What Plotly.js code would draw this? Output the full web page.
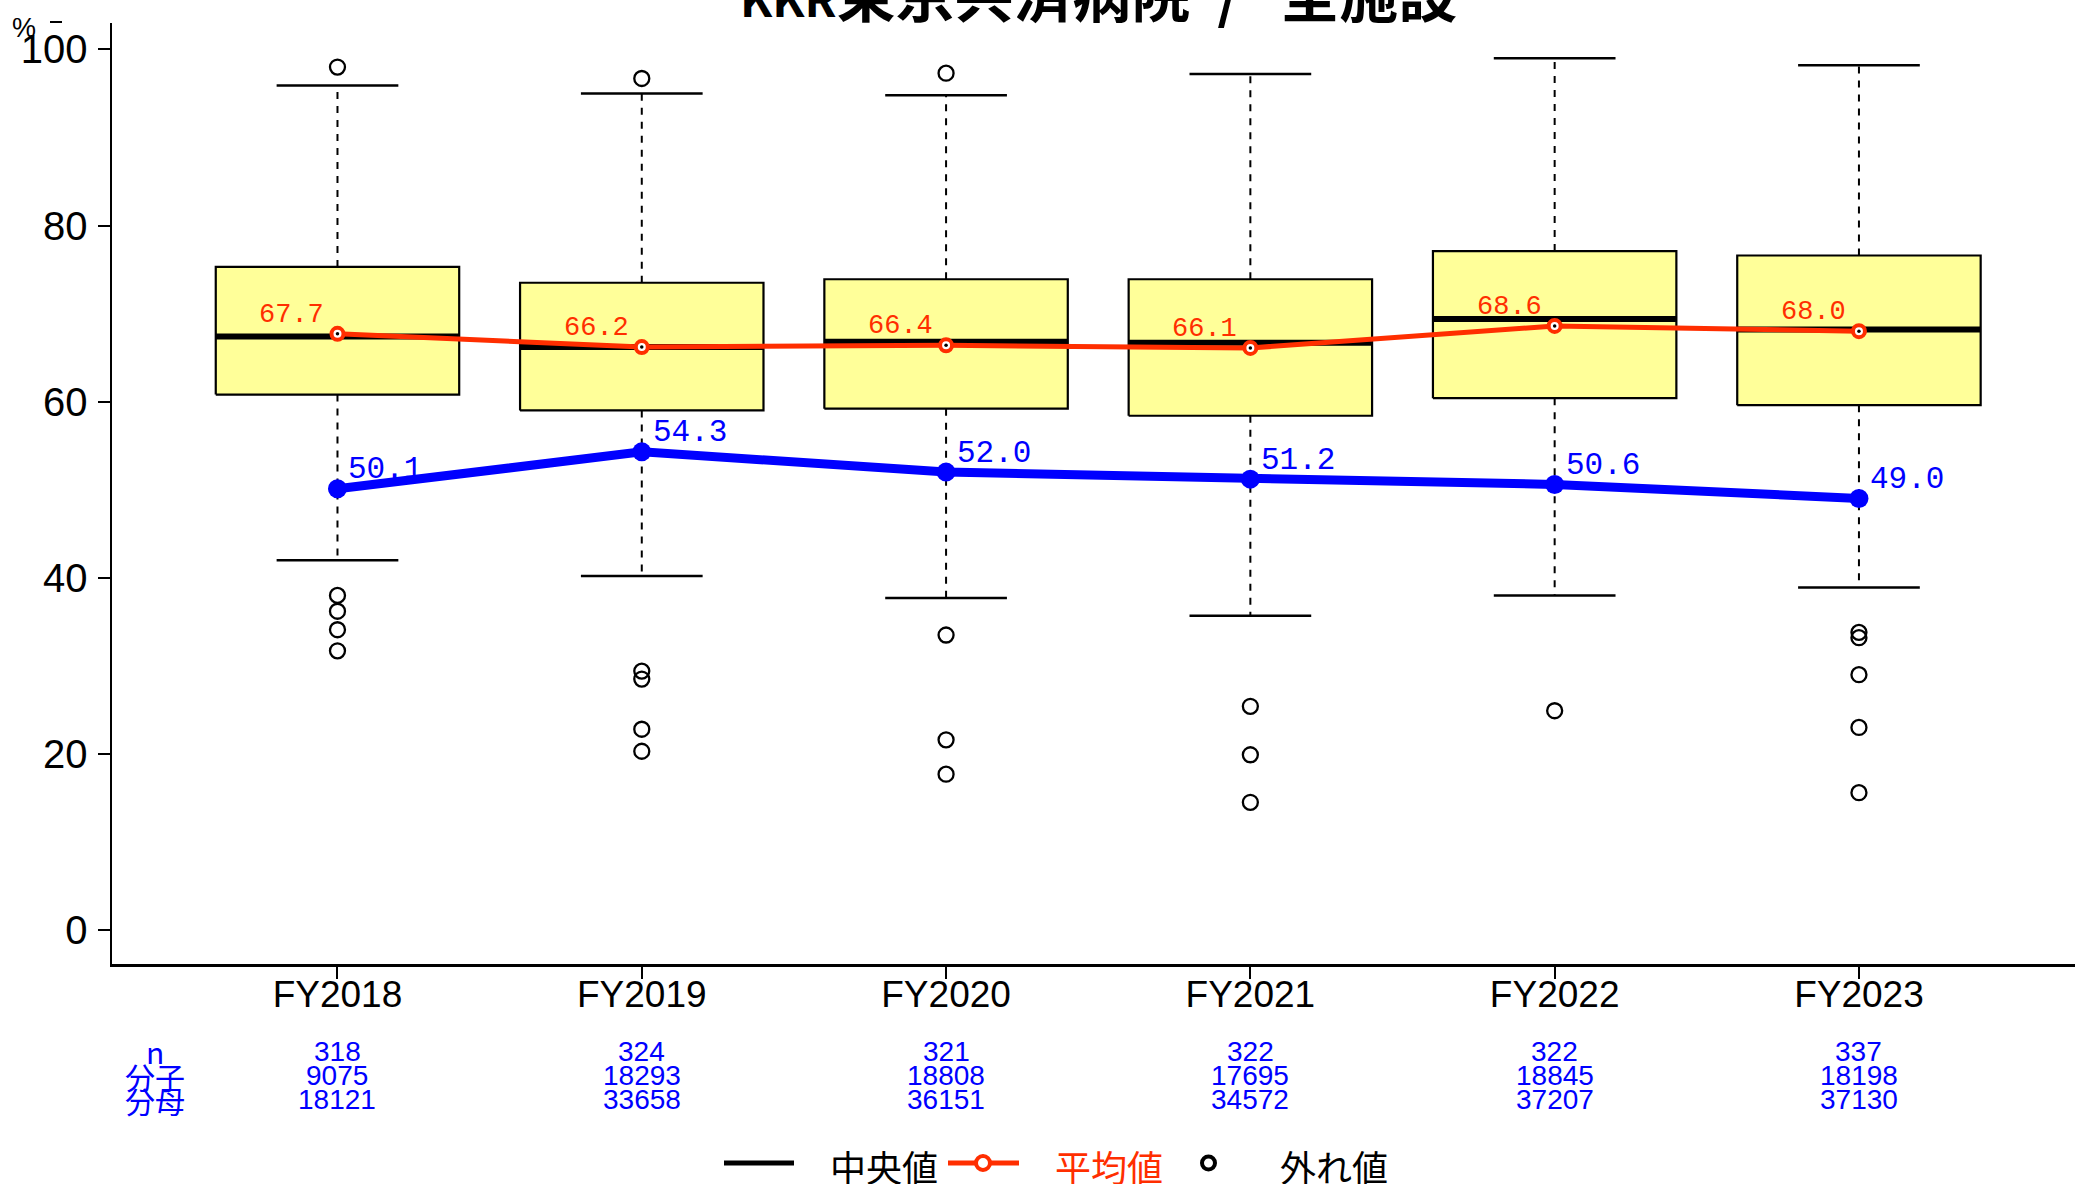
<!DOCTYPE html>
<html><head><meta charset="utf-8">
<script src="https://cdn.plot.ly/plotly-3.0.1.min.js"></script>
<style>html,body{margin:0;padding:0;background:#fff;overflow:hidden}</style>
</head><body><div id="chart" style="width:2075px;height:1184px"></div>
<script>
// ---- data ----
const categories = ['FY2018','FY2019','FY2020','FY2021','FY2022','FY2023'];
const upperWhisker = [95.9, 95.0, 94.8, 97.2, 99.0, 98.2];
const q3Values = [75.3, 73.5, 73.9, 73.9, 77.1, 76.6];
const medianValues = [67.4, 66.2, 66.8, 66.7, 69.4, 68.2];
const q1Values = [60.8, 59.0, 59.2, 58.4, 60.4, 59.6];
const lowerWhisker = [42.0, 40.2, 37.7, 35.7, 38.0, 38.9];
const outliers2018 = [98.0, 38.0, 36.2, 34.1, 31.7];
const outliers2019 = [96.7, 29.4, 28.5, 22.8, 20.3];
const outliers2020 = [97.3, 33.5, 21.6, 17.7];
const outliers2021 = [25.4, 19.9, 14.5];
const outliers2022 = [24.9];
const outliers2023 = [33.8, 33.2, 29.0, 23.0, 15.6];
const meanValues = [67.7, 66.2, 66.4, 66.1, 68.6, 68.0];
const hospitalValues = [50.1, 54.3, 52.0, 51.2, 50.6, 49.0];
const nValues = [318, 324, 321, 322, 322, 337];
const numerators = [9075, 18293, 18808, 17695, 18845, 18198];
const denominators = [18121, 33658, 36151, 34572, 37207, 37130];
const rowLabels = ['n', '分子', '分母'];
const legendLabels = ['中央値', '平均値', '外れ値'];
const titleText = '<span style="font-size:47px">KKR</span>東京共済病院\u00A0\u00A0/\u00A0\u00A0\u00A0全施設';
const yTickVals = [0, 20, 40, 60, 80, 100];
const yUnit = '%';

// ---- layout geometry ----
const W = 2075, H = 1184, ML = 112, MR = 0, MT = 23, MB = 220;
const PW = W - ML - MR, PH = H - MT - MB;
const px = v => (v - ML) / PW;
const py = v => (H - MB - v) / PH;

const RED = '#FF2E00', BLUE = '#0000FF';
const SANS = '"Liberation Sans Narrow", "Arial Narrow", "Liberation Sans", Arial, sans-serif';
const CJK = '"Noto Sans CJK JP", "Liberation Sans", sans-serif';
const MONO = '"Liberation Mono", "DejaVu Sans Mono", monospace';

const idx = categories.map((c, i) => i);
const allOutliers = [outliers2018, outliers2019, outliers2020, outliers2021, outliers2022, outliers2023];
const BH = 0.4, CH = 0.2;

// build boxplot geometry from the stats arrays
const wx = [], wy = [], cx = [], cy = [], bx = [], by = [], mx = [], my = [], ox = [], oy = [];
idx.forEach(i => {
  wx.push(i, i, null, i, i, null);
  wy.push(q3Values[i], upperWhisker[i], null, q1Values[i], lowerWhisker[i], null);
  cx.push(i - CH, i + CH, null, i - CH, i + CH, null);
  cy.push(upperWhisker[i], upperWhisker[i], null, lowerWhisker[i], lowerWhisker[i], null);
  bx.push(i - BH, i + BH, i + BH, i - BH, i - BH, null);
  by.push(q1Values[i], q1Values[i], q3Values[i], q3Values[i], q1Values[i], null);
  mx.push(i - BH, i + BH, null);
  my.push(medianValues[i], medianValues[i], null);
  allOutliers[i].forEach(v => { ox.push(i); oy.push(v); });
});

const traces = [
  {x: wx, y: wy, mode: 'lines', line: {color: '#000', width: 2, dash: '7px,7px'}, hoverinfo: 'skip'},
  {x: cx, y: cy, mode: 'lines', line: {color: '#000', width: 2.5}, hoverinfo: 'skip'},
  {x: bx, y: by, mode: 'lines', fill: 'toself', fillcolor: '#FFFF99', line: {color: '#000', width: 2.2}, hoverinfo: 'skip'},
  {x: mx, y: my, mode: 'lines', line: {color: '#000', width: 6}, hoverinfo: 'skip'},
  {x: ox, y: oy, mode: 'markers', marker: {symbol: 'circle-open', size: 15, color: '#000', line: {width: 2.3}}},
  {x: idx, y: meanValues, mode: 'lines+markers', line: {color: RED, width: 5},
   marker: {symbol: 'circle', size: 12, color: '#fff', line: {color: RED, width: 4}}},
  {x: idx, y: meanValues, mode: 'markers', marker: {symbol: 'circle', size: 3.5, color: '#000'}},
  {x: idx, y: hospitalValues, mode: 'lines+markers', line: {color: BLUE, width: 9},
   marker: {symbol: 'circle', size: 19, color: BLUE}}
];
traces.forEach(t => { t.showlegend = false; t.type = 'scatter'; t.cliponaxis = false; });

const ann = [];
// mean labels (red) and hospital labels (blue)
idx.forEach(i => {
  ann.push({x: i, y: meanValues[i], xref: 'x', yref: 'y', text: meanValues[i].toFixed(1), showarrow: false,
    xanchor: 'right', yanchor: 'middle', xshift: -11, yshift: 19, font: {family: MONO, size: 27, color: RED}});
  ann.push({x: i, y: hospitalValues[i], xref: 'x', yref: 'y', text: hospitalValues[i].toFixed(1), showarrow: false,
    xanchor: 'left', yanchor: 'middle', xshift: 9, yshift: 19, font: {family: MONO, size: 31, color: BLUE}});
});
// table under the axis
const rowY = [1051, 1075.5, 1099.5];
const rows = [nValues, numerators, denominators];
rows.forEach((arr, r) => {
  ann.push({x: px(155), y: py(rowY[r]), xref: 'paper', yref: 'paper', text: rowLabels[r], showarrow: false,
    xanchor: 'center', yanchor: 'middle', font: {family: CJK, size: 30, color: BLUE}});
  arr.forEach((v, i) => {
    ann.push({x: i, y: py(rowY[r]), xref: 'x', yref: 'paper', text: String(v), showarrow: false,
      xanchor: 'center', yanchor: 'middle', font: {family: SANS, size: 28, color: BLUE}});
  });
});
// title (mostly cut off by top edge)
ann.push({x: px(1098), y: py(-8), xref: 'paper', yref: 'paper', text: titleText, showarrow: false,
  xanchor: 'center', yanchor: 'middle', font: {family: CJK, size: 59, color: '#000', weight: 'bold'}});
// y unit
ann.push({x: px(24), y: py(28), xref: 'paper', yref: 'paper', text: yUnit, showarrow: false,
  xanchor: 'center', yanchor: 'middle', font: {family: SANS, size: 27, color: '#000'}});
// legend
const LY = 1166;
ann.push({x: px(828), y: py(LY), xref: 'paper', yref: 'paper', text: legendLabels[0], showarrow: false,
  xanchor: 'left', yanchor: 'middle', font: {family: CJK, size: 36, color: '#000'}});
ann.push({x: px(1053), y: py(LY), xref: 'paper', yref: 'paper', text: legendLabels[1], showarrow: false,
  xanchor: 'left', yanchor: 'middle', font: {family: CJK, size: 36, color: RED}});
ann.push({x: px(1278), y: py(LY), xref: 'paper', yref: 'paper', text: legendLabels[2], showarrow: false,
  xanchor: 'left', yanchor: 'middle', font: {family: CJK, size: 36, color: '#000'}});

const shapes = [
  {type: 'line', xref: 'paper', yref: 'paper', x0: px(724), x1: px(794), y0: py(1163), y1: py(1163), line: {color: '#000', width: 5}},
  {type: 'line', xref: 'paper', yref: 'paper', x0: px(948), x1: px(1019), y0: py(1163), y1: py(1163), line: {color: RED, width: 5}},
  {type: 'circle', xref: 'paper', yref: 'paper', x0: px(976), x1: px(990), y0: py(1170), y1: py(1156), fillcolor: '#fff', line: {color: RED, width: 4}},
  {type: 'circle', xref: 'paper', yref: 'paper', x0: px(1202), x1: px(1215), y0: py(1169.5), y1: py(1156.5), fillcolor: 'rgba(0,0,0,0)', line: {color: '#000', width: 4}},
  {type: 'line', xref: 'paper', yref: 'paper', x0: px(50), x1: px(62), y0: py(22), y1: py(22), line: {color: '#000', width: 2}}
];

const layout = {
  width: W, height: H,
  margin: {l: ML, r: MR, t: MT, b: MB, pad: 0},
  paper_bgcolor: '#fff', plot_bgcolor: '#fff',
  showlegend: false,
  xaxis: {range: [-0.741, 5.71], tickvals: idx, ticktext: categories, showgrid: false, zeroline: false,
    showline: true, linecolor: '#000', linewidth: 2.5, ticks: 'outside', ticklen: 12, tickwidth: 2, tickcolor: '#000',
    tickfont: {family: SANS, size: 37, color: '#000'}, ticklabelstandoff: -16},
  yaxis: {range: [-3.86, 103.0], tickvals: yTickVals, showgrid: false, zeroline: false,
    showline: true, linecolor: '#000', linewidth: 2.5, ticks: 'outside', ticklen: 12, tickwidth: 2, tickcolor: '#000',
    tickfont: {family: SANS, size: 40, color: '#000'}, ticklabelstandoff: 2},
  annotations: ann,
  shapes: shapes
};
Plotly.newPlot('chart', traces, layout, {staticPlot: true, displayModeBar: false});
</script>
</body></html>
